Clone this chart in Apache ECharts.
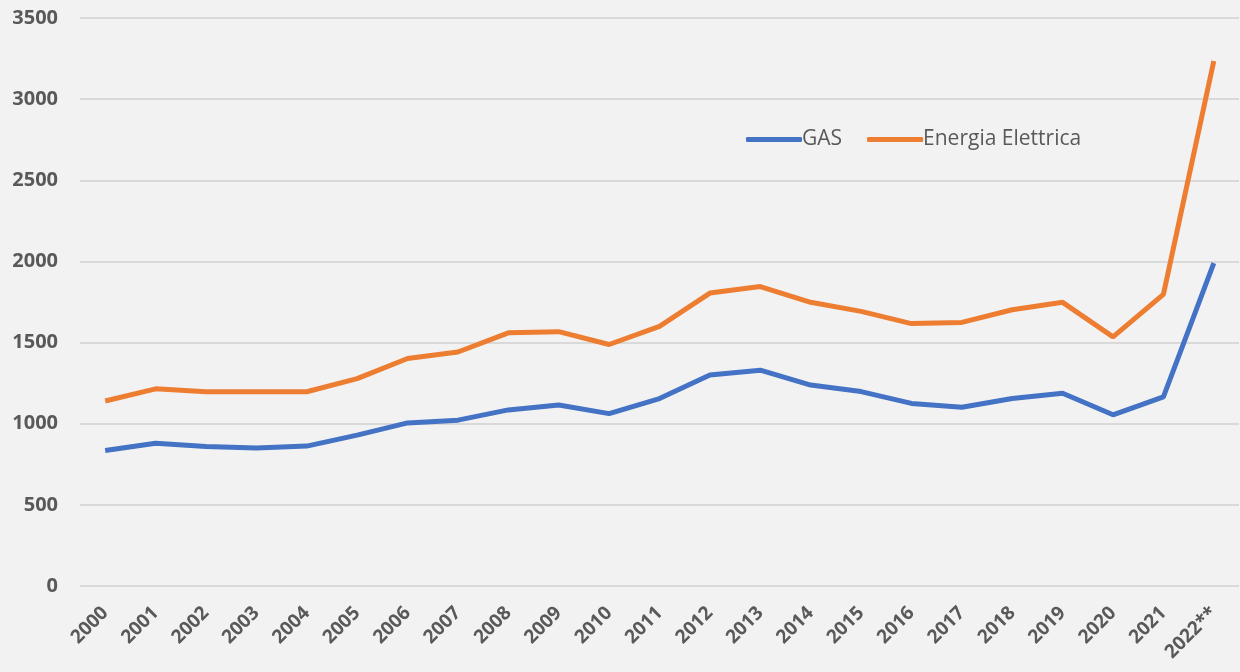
<!DOCTYPE html>
<html>
<head>
<meta charset="utf-8">
<script src="https://cdn.jsdelivr.net/npm/echarts@6/dist/echarts.min.js"></script>
<style>
  html, body { margin: 0; padding: 0; background: #f2f2f2; }
  #chart { width: 1240px; height: 672px; }
</style>
</head>
<body>
<div id="chart"></div>
<script>
var years = ["2000","2001","2002","2003","2004","2005","2006","2007","2008","2009","2010","2011",
             "2012","2013","2014","2015","2016","2017","2018","2019","2020","2021","2022**"];
var gas = [835, 880, 860, 850, 862, 930, 1005, 1022, 1085, 1115, 1062, 1155,
           1300, 1330, 1238, 1198, 1125, 1102, 1155, 1188, 1055, 1165, 1990];
var elettrica = [1140, 1215, 1197, 1197, 1197, 1278, 1402, 1442, 1560, 1567, 1488, 1600,
                 1805, 1845, 1748, 1692, 1617, 1624, 1702, 1748, 1535, 1797, 3235];

var chart = echarts.init(document.getElementById("chart"));
var option = {
    backgroundColor: "#f2f2f2",
    animation: false,
    grid: { left: 80, right: 1, top: 18, bottom: 86, containLabel: false },
    legend: {
        left: 741,
        top: 124,
        itemWidth: 56,
        itemHeight: 5,
        itemGap: 25,
        icon: "roundRect",
        textStyle: { fontSize: 21, color: "#595959", fontFamily: "Open Sans", padding: [0, 0, 0, -5] },
        data: ["GAS", "Energia Elettrica"]
    },
    xAxis: {
        type: "category",
        data: years,
        boundaryGap: true,
        axisLine: { show: false },
        axisTick: { show: false },
        axisLabel: {
            rotate: 45,
            margin: 24,
            interval: 0,
            fontSize: 19,
            fontWeight: "bold",
            color: "#595959",
            fontFamily: "Open Sans"
        }
    },
    yAxis: {
        type: "value",
        min: 0,
        max: 3500,
        interval: 500,
        axisLine: { show: false },
        axisTick: { show: false },
        splitLine: { lineStyle: { color: "#d9d9d9", width: 2 } },
        axisLabel: {
            margin: 22,
            fontSize: 20,
            fontWeight: "bold",
            color: "#595959",
            fontFamily: "Open Sans",
            formatter: function (v) { return String(v); }
        }
    },
    series: [
        {
            name: "GAS",
            type: "line",
            data: gas,
            symbol: "none",
            lineStyle: { width: 5, color: "#4472c4" },
            itemStyle: { color: "#4472c4" }
        },
        {
            name: "Energia Elettrica",
            type: "line",
            data: elettrica,
            symbol: "none",
            lineStyle: { width: 5, color: "#ed7d31" },
            itemStyle: { color: "#ed7d31" }
        }
    ]
};
chart.setOption(option);
</script>
</body>
</html>
